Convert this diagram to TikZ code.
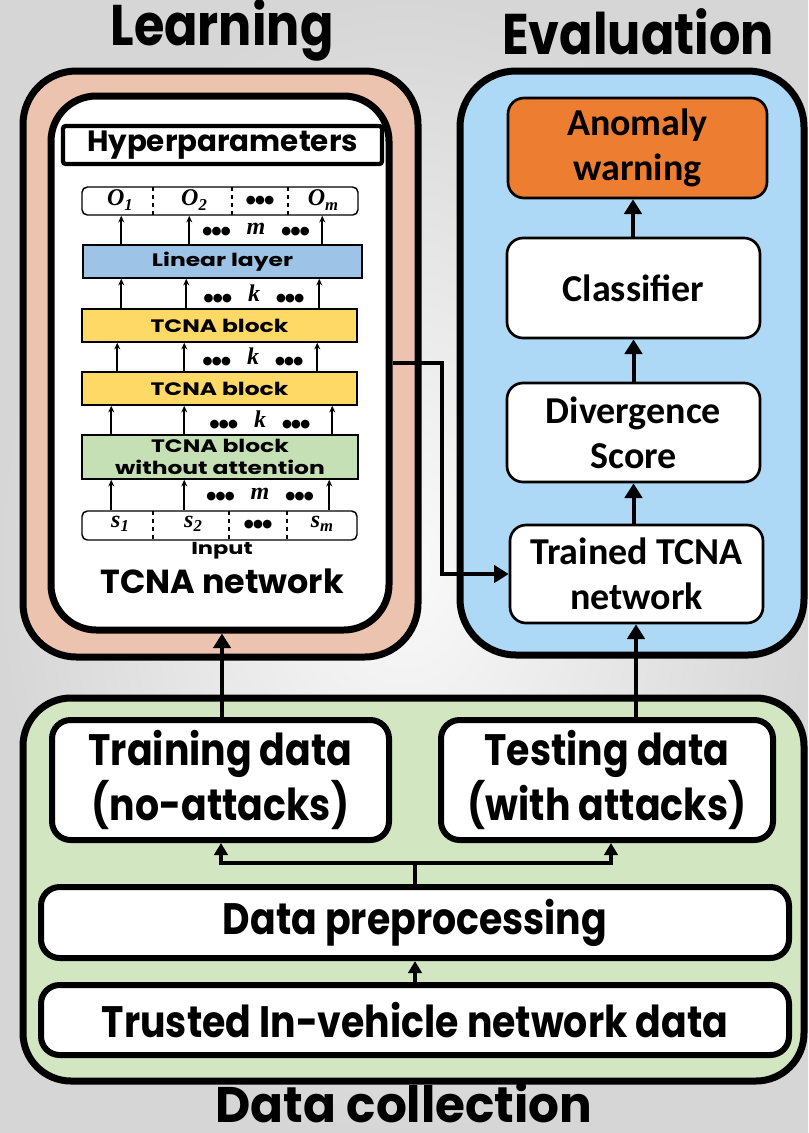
\documentclass[tikz,border=0pt]{standalone}
\usepackage{fontspec}
\usetikzlibrary{arrows.meta,calc}
\newfontfamily\geo{Poppins}
\newfontfamily\geowide{Poppins}[FakeStretch=1.3]
\newfontfamily\geocond{Poppins}[FakeStretch=0.86]
\newfontfamily\geomid{Poppins}[FakeStretch=0.97]
\newfontfamily\calib{Carlito}
\newfontfamily\djv{DejaVu Sans}
\newfontfamily\mvar{Liberation Serif}
\definecolor{salmon}{HTML}{EBC3AE}
\definecolor{evalblue}{HTML}{ADD9F7}
\definecolor{collgreen}{HTML}{D1E6C1}
\definecolor{warnorange}{HTML}{ED7D31}
\definecolor{linblue}{HTML}{9DC3E6}
\definecolor{tcnayellow}{HTML}{FFD966}
\definecolor{tcnagreen}{HTML}{C5E0B4}
\tikzset{
  corners/.style n args={4}{minimum width={(#3-#1)*0.75pt}, minimum height={(#4-#2)*0.75pt},
    at={({(#1+#3)/2},{(#2+#4)/2})}},
  region/.style={draw, line width=5.25pt, inner sep=0pt},
  databox/.style={draw, line width=4.5pt, inner sep=0pt, fill=white, rounded corners=14pt, align=center,
    font=\geocond\bfseries\fontsize{33}{41}\selectfont},
  ebox/.style={draw, line width=2pt, inner sep=0pt, fill=white, rounded corners=12pt, align=center,
    font=\calib\bfseries\fontsize{28.5}{34}\selectfont},
  layer/.style={draw, line width=1.1pt, inner sep=0pt, align=center,
    font=\geowide\bfseries\fontsize{13.5}{16}\selectfont},
  iorow/.style={draw, line width=1.1pt, inner sep=0pt, fill=white, rounded corners=4pt},
  sarrow/.style={line width=1.5pt, -{Stealth[length=5pt,width=4.5pt]}},
  bigarrow/.style={line width=3.5pt, -{Triangle[length=11pt,width=13pt]}},
  earrow/.style={line width=3pt, -{Triangle[length=11pt,width=13pt]}},
  darrow/.style={line width=3pt, -{Triangle[length=9pt,width=10pt]}},
  title/.style={font=\geocond\bfseries\fontsize{43}{46}\selectfont},
  mlabel/.style={font=\mvar\bfseries\itshape\fontsize{18}{19}\selectfont},
}
\newcommand{\tdots}{{\djv\fontsize{8.5}{9}\selectfont ●\kern-0.5pt●\kern-0.5pt●}}
\newcommand{\lbl}[1]{\tdots\hspace{12pt}#1\hspace{12pt}\tdots}
\newcommand{\sub}[1]{\raisebox{-0.4ex}{\fontsize{12.5}{13}\selectfont #1}}
\begin{document}
\begin{tikzpicture}[x=0.75pt,y=-0.75pt]
\useasboundingbox (0,0) rectangle (808,1133);
\shade[inner color=white!96!gray, outer color=gray!32] (0,0) rectangle (808,1133);

% titles
\node[title] (tlearn) at (222,30) {Learning};
\node[title] (teval) at (638,32) {Evaluation};
\node[font=\geomid\bfseries\fontsize{37.5}{40}\selectfont, anchor=base, inner sep=0pt] (tcoll) at (404,1122) {Data collection};

% region boxes
\node[region, fill=salmon, rounded corners=40pt, corners={23}{71}{418}{657}] (learn) {};
\node[region, fill=white, rounded corners=34pt, corners={51}{96}{389}{630}] (tcna) {};
\node[region, fill=evalblue, rounded corners=42pt, corners={460}{71}{804}{655}] (eval) {};
\node[region, fill=collgreen, rounded corners=36pt, corners={23}{698}{804}{1081}] (coll) {};

% hyperparameters
\node[draw, line width=3.2pt, fill=white, inner sep=0pt, rounded corners=2pt,
  corners={63}{126}{382}{164}, font=\geo\bfseries\fontsize{22}{24}\selectfont] (hyper) {Hyperparameters};

% TCNA network internals
\node[iorow, corners={82}{187}{358}{215}] (out) {};
\draw[line width=1.1pt, dashed] (153,187) -- (153,215) (232,187) -- (232,215) (288,187) -- (288,215);
\node[mlabel] (o1) at (120,200) {O\sub{1}};
\node[mlabel] (o2) at (194,200) {O\sub{2}};
\node[mlabel] (od) at (260,201) {\tdots};
\node[mlabel] (om) at (323,200) {O\sub{m}};

\node[layer, fill=linblue, corners={83}{245}{362}{278}] (lin) {Linear layer};
\node[layer, fill=tcnayellow, corners={82}{309}{357}{342}] (tb1) {TCNA block};
\node[layer, fill=tcnayellow, corners={82}{372}{357}{405}] (tb2) {TCNA block};
\node[layer, fill=tcnagreen, corners={82}{435}{358}{479}] (tb0) {TCNA block\\without attention};

\node[iorow, corners={82}{511}{357}{540}] (in) {};
\draw[line width=1.1pt, dashed] (153,511) -- (153,540) (229,511) -- (229,540) (287,511) -- (287,540);
\node[mlabel] (s1) at (120,524) {s\sub{1}};
\node[mlabel] (s2) at (193,524) {s\sub{2}};
\node[mlabel] (sd) at (258,525) {\tdots};
\node[mlabel] (sm) at (322,524) {s\sub{m}};
\node[font=\geowide\bfseries\fontsize{13}{14}\selectfont] (inlab) at (222,551) {Input};
\node[font=\geo\bfseries\fontsize{25}{28}\selectfont] (tcnalab) at (222,581) {TCNA network};

% small arrows
\foreach \dx in {39,107,240} \draw[sarrow] ($(lin.north west)+(\dx,0)$) -- ($(out.south west)+(\dx+1,0)$);
\foreach \dx in {39,104,237} \draw[sarrow] ($(tb1.north west)+(\dx+1,0)$) -- ($(lin.south west)+(\dx,0)$);
\foreach \dx in {36,103,236} \draw[sarrow] ($(tb2.north west)+(\dx,0)$) -- ($(tb1.south west)+(\dx,0)$);
\foreach \dx in {30,103,251} \draw[sarrow] ($(tb0.north west)+(\dx,0)$) -- ($(tb2.south west)+(\dx,0)$);
\foreach \dx in {30,103,248} \draw[sarrow] ($(in.north west)+(\dx,0)$) -- ($(tb0.south west)+(\dx,0)$);

\node[mlabel] (l1) at (256,230) {\lbl{m}};
\node[mlabel] (l2) at (254,294) {\lbl{k}};
\node[mlabel] (l3) at (253,357) {\lbl{k}};
\node[mlabel] (l4) at (260,420) {\lbl{k}};
\node[mlabel] (l5) at (260,495) {\lbl{m}};

% evaluation
\node[ebox, fill=warnorange, corners={508}{98}{767}{198}] (warn) {Anomaly\\warning};
\node[ebox, corners={507}{238}{760}{338}] (clf) {Classifier};
\node[ebox, corners={507}{383}{760}{482}] (div) {Divergence\\Score};
\node[ebox, corners={510}{525}{763}{623}] (trained) {Trained TCNA\\network};
\draw[earrow] (clf.north -| 633,0) -- (warn.south -| 633,0);
\draw[earrow] (div.north) -- (clf.south);
\draw[earrow] (trained.north -| div.north) -- (div.south);

% data collection
\node[databox, corners={52}{720}{389}{840}] (train) {Training data\\(no-attacks)};
\node[databox, corners={441}{720}{773}{840}] (test) {Testing data\\(with attacks)};
\node[databox, corners={41}{887}{789}{958}] (prep) {Data preprocessing};
\node[databox, corners={41}{985}{789}{1055}] (raw) {Trusted In-vehicle network data};

\draw[darrow] (raw.north -| 415,0) -- (prep.south -| 415,0);
\coordinate (split) at (415,863);
\draw[line width=3pt] (prep.north -| split) -- (split);
\draw[darrow] (split) -| (train.south -| 221,0);
\draw[darrow] (split) -| (test.south -| 611,0);

% between regions
\draw[bigarrow] (train.north -| 222,0) -- (tcna.south -| 222,0);
\draw[bigarrow] (test.north -| 636,0) -- (trained.south -| 636,0);
\draw[earrow, line width=3pt] (tcna.east) -- (442,363) |- (trained.west);
\end{tikzpicture}
\end{document}
